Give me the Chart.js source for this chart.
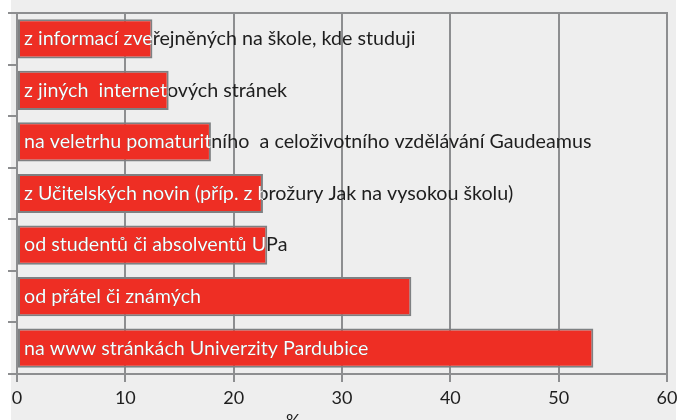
<!DOCTYPE html>
<html>
<head>
<meta charset="utf-8">
<script src="https://cdn.jsdelivr.net/npm/chart.js@4"></script>
<style>
  html, body { margin: 0; padding: 0; background: #fff; }
  #wrap { width: 677px; height: 420px; position: relative; }
</style>
</head>
<body>
<div id="wrap"><canvas id="sourcesChart"></canvas></div>
<script>
const categories = [
  'z informací zveřejněných na škole, kde studuji',
  'z jiných  internetových stránek',
  'na veletrhu pomaturitního  a celoživotního vzdělávání Gaudeamus',
  'z Učitelských novin (příp. z brožury Jak na vysokou školu)',
  'od studentů či absolventů UPa',
  'od přátel či známých',
  'na www stránkách Univerzity Pardubice'
];
const percents = [12.5, 14.0, 17.9, 22.7, 23.1, 36.4, 53.2];
const xTicks = [0, 10, 20, 30, 40, 50, 60];
const axisTitle = '%';

const FONT = 'Lato, "Open Sans", sans-serif';
const GRID = '#8d8e90';

// grey panel behind the plot, top border line and the "%" title
const panelPlugin = {
  id: 'panel',
  beforeDraw(chart) {
    const { ctx } = chart;
    ctx.save();
    ctx.fillStyle = '#eeeeee';
    ctx.fillRect(11, 0, chart.width - 12, chart.height);
    ctx.restore();
  },
  afterDraw(chart) {
    const { ctx, chartArea, scales } = chart;
    ctx.save();
    ctx.strokeStyle = GRID;
    ctx.lineWidth = 2;
    ctx.beginPath();
    ctx.moveTo(chartArea.left - 9, chartArea.top);
    ctx.lineTo(chartArea.right + 1, chartArea.top);
    ctx.stroke();
    ctx.fillStyle = '#1e1e1e';
    ctx.font = `18px ${FONT}`;
    ctx.textAlign = 'center';
    ctx.textBaseline = 'middle';
    ctx.fillText(axisTitle, scales.x.getPixelForValue(25.5), chart.height + 1);
    ctx.restore();
  }
};

// category labels over the bars: white inside the bar, dark outside
const labelPlugin = {
  id: 'barLabels',
  afterDatasetsDraw(chart) {
    const { ctx, chartArea } = chart;
    const meta = chart.getDatasetMeta(0);
    ctx.save();
    ctx.font = `19.7px ${FONT}`;
    ctx.textBaseline = 'middle';
    meta.data.forEach((bar, i) => {
      const tx = chartArea.left + 7;
      const ty = bar.y;
      ctx.fillStyle = '#1e1e1e';
      ctx.fillText(categories[i], tx, ty);
      ctx.save();
      ctx.beginPath();
      ctx.rect(bar.base, bar.y - bar.height / 2, bar.x - bar.base, bar.height);
      ctx.clip();
      ctx.fillStyle = '#ffffff';
      ctx.fillText(categories[i], tx, ty);
      ctx.restore();
    });
    ctx.restore();
  }
};

new Chart(document.getElementById('sourcesChart'), {
  type: 'bar',
  data: {
    labels: categories,
    datasets: [{
      data: percents,
      backgroundColor: '#ee2e24',
      borderColor: '#7e8082',
      borderWidth: 2,
      borderSkipped: false,
      categoryPercentage: 1,
      barPercentage: 0.76
    }]
  },
  options: {
    indexAxis: 'y',
    responsive: true,
    maintainAspectRatio: false,
    animation: false,
    layout: { padding: { top: 13, right: 0, left: 0, bottom: 0 } },
    scales: {
      x: {
        min: 0,
        max: 60,
        afterBuildTicks: s => { s.ticks = xTicks.map(v => ({ value: v })); },
        afterFit: s => { s.height = 46; s.paddingRight = 10; },
        border: { color: GRID, width: 2 },
        grid: { color: GRID, lineWidth: 2, tickLength: 8 },
        ticks: { color: '#1e1e1e', font: { family: FONT, size: 18 }, padding: 5, maxRotation: 0 }
      },
      y: {
        afterFit: s => { s.width = 17; },
        border: { color: GRID, width: 2 },
        grid: { color: GRID, lineWidth: 2, drawOnChartArea: false, tickLength: 9 },
        ticks: { display: false }
      }
    },
    plugins: {
      legend: { display: false },
      tooltip: { enabled: false }
    }
  },
  plugins: [panelPlugin, labelPlugin]
});
</script>
</body>
</html>
